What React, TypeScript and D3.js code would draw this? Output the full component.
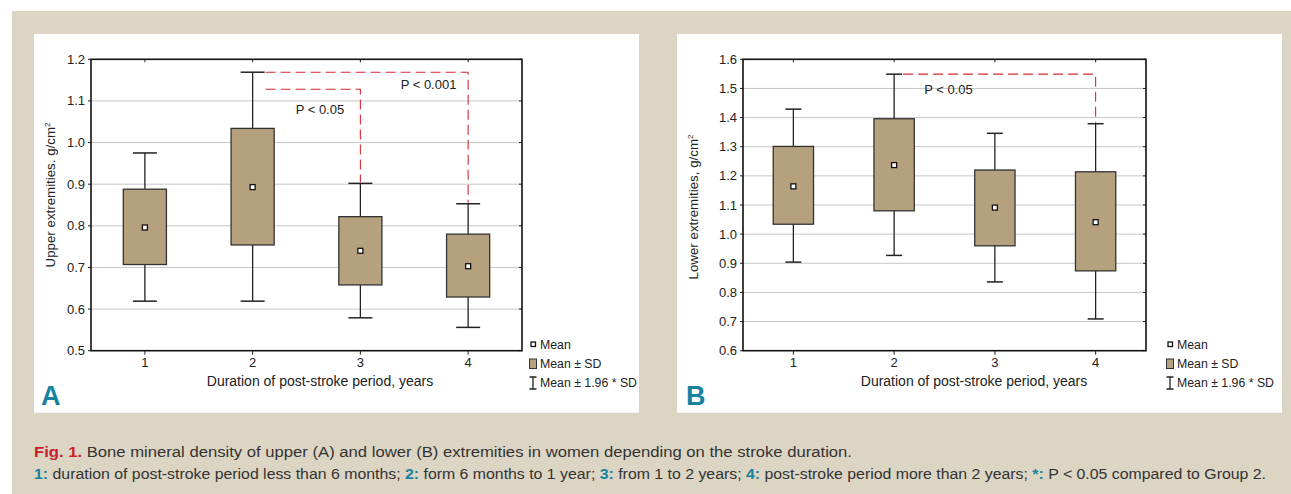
import React from 'react';
import * as d3 from 'd3';

// groups: duration of post-stroke period
const groups = [1, 2, 3, 4];

// A: upper extremities, g/cm2
const upperMean = [0.796, 0.893, 0.74, 0.703];
const upperSdLow = [0.707, 0.754, 0.658, 0.629];
const upperSdHigh = [0.888, 1.034, 0.822, 0.78];
const upperCiLow = [0.619, 0.619, 0.579, 0.556];
const upperCiHigh = [0.975, 1.169, 0.902, 0.853];
const upperTicks = [0.5, 0.6, 0.7, 0.8, 0.9, 1.0, 1.1, 1.2];

// B: lower extremities, g/cm2
const lowerMean = [1.164, 1.237, 1.091, 1.041];
const lowerSdLow = [1.034, 1.08, 0.96, 0.874];
const lowerSdHigh = [1.301, 1.396, 1.22, 1.214];
const lowerCiLow = [0.904, 0.927, 0.836, 0.709];
const lowerCiHigh = [1.429, 1.549, 1.346, 1.379];
const lowerTicks = [0.6, 0.7, 0.8, 0.9, 1.0, 1.1, 1.2, 1.3, 1.4, 1.5, 1.6];

// significance brackets: from group, to group, bracket level, label, label level, label offset
const upperComparisons = [
  { from: 2, to: 4, level: 1.169, label: 'P < 0.001', labelAt: 1.128, dx: 148 },
  { from: 2, to: 3, level: 1.128, label: 'P < 0.05', labelAt: 1.068, dx: 43 },
];
const lowerComparisons = [
  { from: 2, to: 4, level: 1.549, label: 'P < 0.05', labelAt: 1.481, dx: 30 },
];

const legendItems = ['Mean', 'Mean ± SD', 'Mean ± 1.96 * SD'];

const BEIGE = '#ddd5c3';
const BOX = '#b6a17f';
const TEAL = '#16829e';
const RED = '#c8202f';
const FONT = '"Liberation Sans", Arial, sans-serif';

type PanelProps = {
  left: number;
  right: number;
  letter: string;
  letterX: number;
  xTitleX: number;
  yTitle: string;
  yTitleX: number;
  yTitleY: number;
  ticks: number[];
  mean: number[];
  sdLow: number[];
  sdHigh: number[];
  ciLow: number[];
  ciHigh: number[];
  comparisons: { from: number; to: number; level: number; label: string; labelAt: number; dx: number }[];
  capHalf: number;
  legendX: number;
};

const Panel = (p: PanelProps) => {
  const top = 59.3;
  const bottom = 350.7;
  const x = d3.scalePoint<number>().domain(groups).range([p.left, p.right]).padding(0.5);
  const y = d3.scaleLinear().domain(d3.extent(p.ticks) as [number, number]).range([bottom, top]);
  const boxW = x.step() * 0.4;
  const fmt = d3.format('.1f');

  return (
    <g fontFamily={FONT}>
      {/* gridlines */}
      {p.ticks.slice(1, -1).map((t) => (
        <line key={'g' + t} x1={p.left} x2={p.right} y1={y(t)} y2={y(t)} stroke="#c6c6c6" strokeWidth={1} />
      ))}
      {/* y tick labels */}
      {p.ticks.map((t) => (
        <g key={'t' + t}>
          <line x1={p.left - 3} x2={p.left} y1={y(t)} y2={y(t)} stroke="#222" />
          <line x1={p.right - 3} x2={p.right} y1={y(t)} y2={y(t)} stroke="#222" />
          <text x={p.left - 6} y={y(t) + 4.5} textAnchor="end" fontSize={13} fill="#222">
            {fmt(t)}
          </text>
        </g>
      ))}
      {/* x ticks */}
      {groups.map((g) => (
        <g key={'x' + g}>
          <line x1={x(g)} x2={x(g)} y1={bottom} y2={bottom + 4} stroke="#222" />
          <line x1={x(g)} x2={x(g)} y1={top} y2={top + 3} stroke="#222" />
          <text x={x(g)} y={bottom + 16} textAnchor="middle" fontSize={13} fill="#222">
            {g}
          </text>
        </g>
      ))}
      {/* boxes */}
      {groups.map((g, i) => {
        const cx = x(g) as number;
        return (
          <g key={'b' + g}>
            <line x1={cx} x2={cx} y1={y(p.ciHigh[i])} y2={y(p.ciLow[i])} stroke="#222" strokeWidth={1.3} />
            <line x1={cx - p.capHalf} x2={cx + p.capHalf} y1={y(p.ciHigh[i])} y2={y(p.ciHigh[i])} stroke="#222" strokeWidth={1.5} />
            <line x1={cx - p.capHalf} x2={cx + p.capHalf} y1={y(p.ciLow[i])} y2={y(p.ciLow[i])} stroke="#222" strokeWidth={1.5} />
            <rect
              x={cx - boxW / 2}
              y={y(p.sdHigh[i])}
              width={boxW}
              height={y(p.sdLow[i]) - y(p.sdHigh[i])}
              fill={BOX}
              stroke="#333"
              strokeWidth={1.3}
            />
            <rect x={cx - 2.5} y={y(p.mean[i]) - 2.5} width={5} height={5} fill="#fff" stroke="#111" strokeWidth={1.3} />
          </g>
        );
      })}
      {/* significance brackets */}
      {p.comparisons.map((c) => {
        const x1 = (x(c.from) as number) + p.capHalf + 1;
        const x2 = x(c.to) as number;
        const toIdx = groups.indexOf(c.to);
        return (
          <g key={c.label + c.to}>
            <path
              d={`M${x1},${y(c.level)}H${x2}V${y(p.ciHigh[toIdx]) - 1}`}
              fill="none"
              stroke="#d42a34"
              strokeWidth={1.1}
              strokeDasharray="10,5"
            />
            <text x={(x(c.from) as number) + c.dx} y={y(c.labelAt)} fontSize={13} fill="#222">
              {c.label}
            </text>
          </g>
        );
      })}
      {/* frame */}
      <rect x={p.left} y={top} width={p.right - p.left} height={bottom - top} fill="none" stroke="#111" strokeWidth={1.6} />
      {/* axis titles */}
      <text x={p.xTitleX} y={386} textAnchor="middle" fontSize={14} fill="#222">
        Duration of post-stroke period, years
      </text>
      <text transform={`translate(${p.yTitleX},${p.yTitleY}) rotate(-90)`} textAnchor="middle" fontSize={13.3} fill="#222">
        {p.yTitle}
        <tspan fontSize={8} dy={-5}>2</tspan>
      </text>
      {/* legend */}
      <g>
        <rect x={p.legendX - 2} y={342} width={4.5} height={4.5} fill="#fff" stroke="#111" strokeWidth={1.3} />
        <rect x={p.legendX - 3.5} y={359} width={7} height={9.5} fill={BOX} stroke="#333" strokeWidth={1} />
        <path
          d={`M${p.legendX - 3.5},377H${p.legendX + 3.5}M${p.legendX},377V389M${p.legendX - 3.5},389H${p.legendX + 3.5}`}
          stroke="#222"
          strokeWidth={1.3}
        />
        {legendItems.map((t, i) => (
          <text key={t} x={p.legendX + 7} y={348.5 + i * 19} fontSize={12.3} fill="#222">
            {t}
          </text>
        ))}
      </g>
      {/* panel letter */}
      <text x={p.letterX} y={405} fontSize={27} fontWeight="bold" fill={TEAL} fontFamily='"Liberation Sans Narrow", "Liberation Sans", Arial, sans-serif'>
        {p.letter}
      </text>
    </g>
  );
};

export default function App() {
  return (
    <svg width={1291} height={494} style={{ position: 'absolute', left: 0, top: 0, display: 'block' }}>
      <rect x={0} y={0} width={1291} height={494} fill="#fff" />
      <rect x={12} y={11} width={1279} height={483} fill={BEIGE} />
      <rect x={34} y={34} width={605} height={378.7} fill="#fff" />
      <rect x={677} y={34} width={605} height={378.7} fill="#fff" />
      <Panel
        left={91}
        right={522}
        letter="A"
        letterX={41}
        xTitleX={320}
        yTitle="Upper extremities. g/cm"
        yTitleX={55}
        yTitleY={195}
        ticks={upperTicks}
        mean={upperMean}
        sdLow={upperSdLow}
        sdHigh={upperSdHigh}
        ciLow={upperCiLow}
        ciHigh={upperCiHigh}
        comparisons={upperComparisons}
        capHalf={12}
        legendX={533}
      />
      <Panel
        left={743}
        right={1146}
        letter="B"
        letterX={686}
        xTitleX={974}
        yTitle="Lower extremities, g/cm"
        yTitleX={698}
        yTitleY={207}
        ticks={lowerTicks}
        mean={lowerMean}
        sdLow={lowerSdLow}
        sdHigh={lowerSdHigh}
        ciLow={lowerCiLow}
        ciHigh={lowerCiHigh}
        comparisons={lowerComparisons}
        capHalf={8}
        legendX={1170}
      />
      <g fontFamily={FONT} fontSize={15.5} fill="#333">
        <text x={34} y={457} textLength={818} lengthAdjust="spacingAndGlyphs">
          <tspan fill={RED} fontWeight="bold">Fig. 1.</tspan> Bone mineral density of upper (A) and lower (B) extremities in women depending on the stroke duration.
        </text>
        <text x={34} y={479} textLength={1232} lengthAdjust="spacingAndGlyphs">
          <tspan fill={TEAL} fontWeight="bold">1:</tspan> duration of post-stroke period less than 6 months; <tspan fill={TEAL} fontWeight="bold">2:</tspan> form 6 months to 1 year;{' '}
          <tspan fill={TEAL} fontWeight="bold">3:</tspan> from 1 to 2 years; <tspan fill={TEAL} fontWeight="bold">4:</tspan> post-stroke period more than 2 years;{' '}
          <tspan fill={TEAL} fontWeight="bold">*:</tspan> P &lt; 0.05 compared to Group 2.
        </text>
      </g>
    </svg>
  );
}
